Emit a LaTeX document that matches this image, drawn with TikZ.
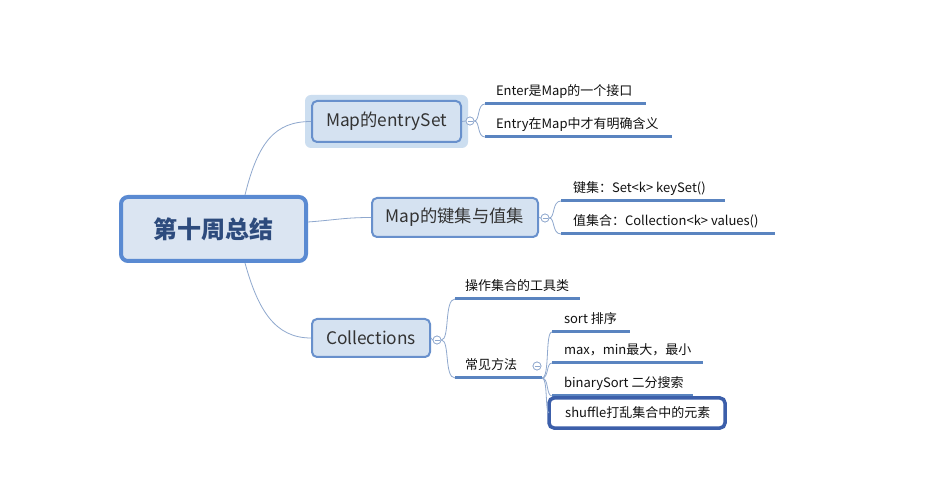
\documentclass[tikz,border=0pt]{standalone}
\usepackage{fontspec}
\setmainfont{Noto Sans CJK SC}
\definecolor{rootfill}{HTML}{DBE5F2}
\definecolor{rootborder}{HTML}{5A8AD2}
\definecolor{roottext}{HTML}{2D4B7D}
\definecolor{mainfill}{HTML}{D5E2F1}
\definecolor{mainborder}{HTML}{6890CC}
\definecolor{halocol}{HTML}{CCDEF0}
\definecolor{conncol}{HTML}{8FA8CE}
\definecolor{ulcol}{HTML}{5A84C0}
\definecolor{selborder}{HTML}{3C5FAA}
\definecolor{maintext}{HTML}{333333}
\definecolor{leaftext}{HTML}{111111}
\newcommand{\lbox}[2]{\makebox[#1][l]{#2}}
\tikzset{
  rootbox/.style={draw=rootborder, fill=rootfill, line width=4pt, rounded corners=7pt,
    minimum width=185pt, minimum height=64pt, text=roottext,
    font=\fontsize{24}{27}\selectfont\bfseries},
  mainbox/.style={draw=mainborder, fill=mainfill, line width=2pt, rounded corners=5pt,
    text=maintext, font=\fontsize{17.3}{20}\selectfont, inner sep=0pt},
  halobox/.style={fill=halocol, rounded corners=6pt, inner sep=0pt},
  conn/.style={draw=conncol, line width=0.8pt},
  ul/.style={draw=ulcol, line width=3pt},
  leaf/.style={anchor=south west, inner xsep=11pt, inner ysep=5pt, outer sep=0pt,
    text height=10pt, text depth=3pt, text=leaftext, font=\fontsize{13}{15}\selectfont},
  collapse/.style={circle, draw=conncol, fill=white, minimum size=8pt, inner sep=0pt,
    line width=0.7pt,
    path picture={\draw[conncol, line width=0.7pt]
      ([xshift=-2.5pt]path picture bounding box.center) --
      ([xshift=2.5pt]path picture bounding box.center);}},
  selbox/.style={draw=selborder, fill=white, line width=3.5pt, rounded corners=5pt,
    minimum width=176pt, minimum height=30pt, inner sep=0pt, outer sep=0pt,
    text=leaftext, font=\fontsize{13}{15}\selectfont}
}
\begin{document}
\begin{tikzpicture}[x=1pt,y=-1pt]
\useasboundingbox (0,0) rectangle (951,494);
\fill[white] (0,0) rectangle (951,494);

% main nodes
\node[rootbox] (root) at (213.5,229) {第十周总结};
\node[halobox, minimum width=163pt, minimum height=53pt] (m1h) at (386.5,121.5) {};
\node[mainbox, minimum width=149pt, minimum height=41pt] (m1) at (386.5,121.5) {Map的entrySet};
\node[mainbox, minimum width=166pt, minimum height=39pt] (m2) at (455,217.5) {Map的键集与值集};
\node[mainbox, minimum width=118pt, minimum height=38pt] (m3) at (371,338) {Collections};

% main connectors
\draw[conn] ([xshift=31.5pt]root.north) .. controls (258,142) and (275,121.5) .. (m1.west);
\draw[conn] ([yshift=7pt]root.east) .. controls (335,220) and (345,217.5) .. (m2.west);
\draw[conn] ([xshift=31.5pt]root.south) .. controls (258,310) and (275,338) .. (m3.west);

% leaves
\node[leaf] (l1) at (485,104) {\lbox{139pt}{Enter是Map的一个接口}};
\node[leaf] (l2) at (485,137) {\lbox{165pt}{Entry在Map中才有明确含义}};
\node[leaf, inner xsep=12pt] (l3) at (561,201) {\lbox{140pt}{键集：Set<k> keySet()}};
\node[leaf, inner xsep=12pt] (l4) at (561,234) {\lbox{190pt}{值集合：Collection<k> values()}};
\node[leaf, inner xsep=10pt] (l5) at (455,299) {\lbox{105pt}{操作集合的工具类}};
\node[leaf, inner xsep=10pt] (l6) at (455,378) {\lbox{67pt}{常见方法}};
\node[leaf, inner xsep=12pt] (l7) at (552,332) {\lbox{54pt}{sort 排序}};
\node[leaf, inner xsep=12pt] (l8) at (552,363) {\lbox{127pt}{max，min最大，最小}};
\node[leaf, inner xsep=12pt] (l9) at (552,396) {\lbox{117pt}{binarySort 二分搜索}};

% collapse circles
\node[collapse] (c1) at (470,121) {};
\node[collapse] (c2) at (545,218) {};
\node[collapse] (c3) at (437,340) {};
\node[collapse] (c4) at (537,366) {};

% brackets
\draw[conn] (m1.east) -- (c1.west);
\draw[conn] (c1.east) .. controls (480,121) and (477,104) .. (l1.south west);
\draw[conn] (c1.east) .. controls (480,121) and (477,137) .. (l2.south west);
\draw[conn] (m2.east) -- (c2.west);
\draw[conn] (c2.east) .. controls (555,218) and (552,201) .. (l3.south west);
\draw[conn] (c2.east) .. controls (555,218) and (552,234) .. (l4.south west);
\draw[conn] (m3.east) -- (c3.west);
\draw[conn] (c3.east) .. controls (450,340) and (444,299) .. (l5.south west);
\draw[conn] (c3.east) .. controls (450,340) and (444,378) .. (l6.south west);
\draw[conn] (l6.south east) .. controls (550,378) and (545,332) .. (l7.south west);
\draw[conn] (l6.south east) .. controls (549,378) and (546,363) .. (l8.south west);
\draw[conn] (l6.south east) .. controls (549,378) and (546,396) .. (l9.south west);

% underlines
\foreach \n in {l1,l2,l3,l4,l5,l6,l7,l8,l9}
  \draw[ul] (\n.south west) -- (\n.south east);

% selected leaf
\node[selbox, anchor=west] (l10) at (549,413) {};
\node[anchor=base west, inner sep=0pt, text=leaftext, font=\fontsize{13}{15}\selectfont]
  (l10t) at ([xshift=16pt,yshift=-4.5pt]l10.west) {shuffle打乱集合中的元素};
\draw[conn] (l6.south east) .. controls (548,378) and (545,413) .. (l10.west);

% redraw circles on top
\node[collapse] at (c1) {};
\node[collapse] at (c2) {};
\node[collapse] at (c3) {};
\node[collapse] at (c4) {};
\end{tikzpicture}
\end{document}
